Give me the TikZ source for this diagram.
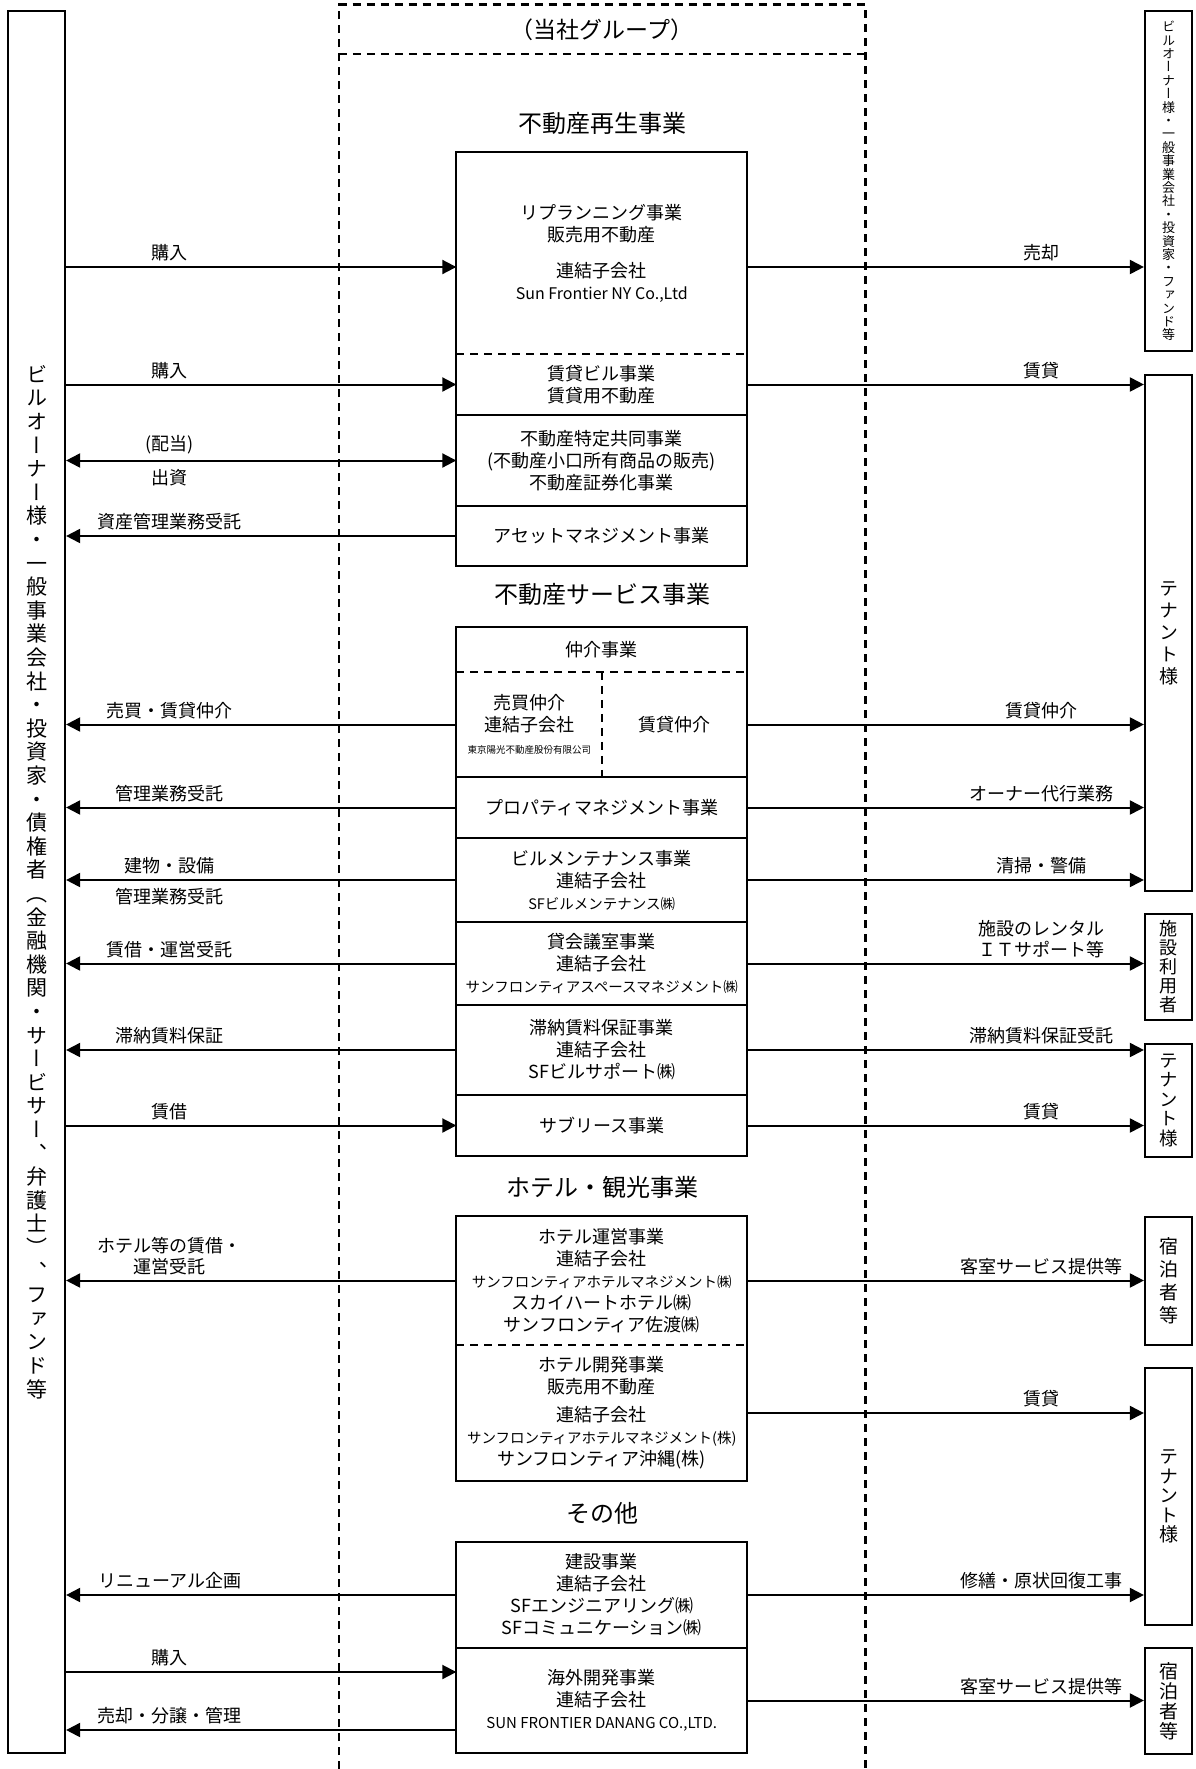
\documentclass[tikz,border=0pt]{standalone}
\usepackage{fontspec}
\setmainfont{Noto Sans CJK JP}
\newfontfamily\vertfont[RawFeature=+vert]{Noto Sans CJK JP}
\usepackage{tikz}
\usetikzlibrary{arrows.meta}
\newcommand{\vtext}[2]{\vertfont\fontsize{#1}{#2}\selectfont}
\newcommand{\headfont}{\fontsize{24}{28}\selectfont}
\newcommand{\boxfont}{\fontsize{18}{22}\selectfont}
\newcommand{\namefont}{\fontsize{14.5}{22}\selectfont}
\newcommand{\tinyfont}{\fontsize{9.5}{22}\selectfont}
\newcommand{\labelfont}{\fontsize{18}{21}\selectfont}
\tikzstyle{Section}=[minimum width=290.5pt, inner sep=0pt, align=center, font=\boxfont]
\tikzstyle{Half}=[minimum width=145pt, inner sep=0pt, align=center, font=\boxfont]
\tikzstyle{Owner}=[minimum width=57pt, minimum height=1742pt, draw=black, line width=2.2pt, inner sep=0pt, align=center]
\tikzstyle{Party}=[minimum width=47pt, draw=black, line width=2.2pt, inner sep=0pt, align=center]
\tikzstyle{Heading}=[font=\headfont, inner sep=0pt]
\tikzstyle{Label}=[font=\labelfont, inner sep=1pt, align=center]
\tikzstyle{arrow}=[line width=2pt]
\tikzstyle{Frame}=[line width=2.2pt]
\tikzstyle{divider}=[line width=2.2pt, dash pattern=on 8pt off 6pt]
\tikzstyle{groupline}=[line width=2.6pt, dash pattern=on 8pt off 6pt]
\pgfdeclarelayer{nodelayer}
\pgfdeclarelayer{edgelayer}
\pgfsetlayers{nodelayer, edgelayer, main}

\begin{document}
\begin{tikzpicture}[x=1pt, y=-1pt, >={Triangle[length=14pt, width=14pt]}]
	\useasboundingbox (0, 0) rectangle (1195, 1769);
	\begin{pgfonlayer}{nodelayer}
		\node [style=Owner, font={\vtext{21}{23.6}}] (owners) at (36.5, 882) {ビ\\ル\\オ\\ー\\ナ\\ー\\様\\・\\一\\般\\事\\業\\会\\社\\・\\投\\資\\家\\・\\債\\権\\者\\（\\金\\融\\機\\関\\・\\サ\\ー\\ビ\\サ\\ー\\、\\弁\\護\\士\\）\\、\\フ\\ァ\\ン\\ド\\等};
		% group header
		\node [style=Heading, minimum width=526pt, minimum height=49pt, font=\fontsize{23}{28}\selectfont] (group_head) at (602, 29.5) {（当社グループ）};
		\coordinate (page_bottom) at (0, 1769);
		% real estate revitalization
		\node [style=Heading] (renew_head) at (602, 123) {不動産再生事業};
		\node [style=Section, minimum height=202pt] (refurb) at (601.75, 253) {リプランニング事業\\販売用不動産\\[14pt]連結子会社\\{\fontsize{16}{22}\selectfont Sun Frontier NY Co.,Ltd}};
		\node [style=Section, minimum height=61pt] (rent_bldg) at (601.75, 384.5) {賃貸ビル事業\\賃貸用不動産};
		\node [style=Section, minimum height=91pt] (joint_biz) at (601.75, 460.5) {不動産特定共同事業\\(不動産小口所有商品の販売)\\不動産証券化事業};
		\node [style=Section, minimum height=60pt] (asset_mgmt) at (601.75, 536) {アセットマネジメント事業};
		% real estate services
		\node [style=Heading] (service_head) at (602, 594) {不動産サービス事業};
		\node [style=Section, minimum height=45pt] (broker_head) at (601.75, 649.5) {仲介事業};
		\node [style=Half, minimum width=145.5pt, minimum height=105pt] (sale_broker) at (529.25, 724.5) {売買仲介\\連結子会社\\{\tinyfont 東京陽光不動産股份有限公司}};
		\node [style=Half, minimum height=105pt] (lease_broker) at (674.5, 724.5) {賃貸仲介};
		\node [style=Section, minimum height=61pt] (prop_mgmt) at (601.75, 807.5) {プロパティマネジメント事業};
		\node [style=Section, minimum height=84pt] (bldg_maint) at (601.75, 880) {ビルメンテナンス事業\\連結子会社\\{\namefont SFビルメンテナンス㈱}};
		\node [style=Section, minimum height=83pt] (conf_room) at (601.75, 963.5) {貸会議室事業\\連結子会社\\{\namefont サンフロンティアスペースマネジメント㈱}};
		\node [style=Section, minimum height=90pt] (rent_guar) at (601.75, 1050) {滞納賃料保証事業\\連結子会社\\SFビルサポート㈱};
		\node [style=Section, minimum height=61pt] (sublease) at (601.75, 1125.5) {サブリース事業};
		% hotel and tourism
		\node [style=Heading] (hotel_head) at (602, 1187) {ホテル・観光事業};
		\node [style=Section, minimum height=129pt] (hotel_op) at (601.75, 1280.5) {ホテル運営事業\\連結子会社\\{\namefont サンフロンティアホテルマネジメント㈱}\\スカイハートホテル㈱\\サンフロンティア佐渡㈱};
		\node [style=Section, minimum height=136pt] (hotel_dev) at (601.75, 1413) {ホテル開発事業\\販売用不動産\\[6pt]連結子会社\\{\namefont サンフロンティアホテルマネジメント(株)}\\サンフロンティア沖縄(株)};
		% others
		\node [style=Heading] (other_head) at (602, 1513) {その他};
		\node [style=Section, minimum height=106pt] (construct) at (601.75, 1595) {建設事業\\連結子会社\\SFエンジニアリング㈱\\SFコミュニケーション㈱};
		\node [style=Section, minimum height=105pt] (overseas) at (601.75, 1700.5) {海外開発事業\\連結子会社\\{\fontsize{15}{22}\selectfont SUN FRONTIER DANANG CO.,LTD.}};
		% counterparties
		\node [style=Party, minimum height=340pt, font={\vtext{13}{13.4}}] (buyers) at (1168.5, 181) {ビ\\ル\\オ\\ー\\ナ\\ー\\様\\・\\一\\般\\事\\業\\会\\社\\・\\投\\資\\家\\・\\フ\\ァ\\ン\\ド\\等};
		\node [style=Party, minimum height=516pt, font={\vtext{19}{22}}] (tenants_a) at (1168.5, 633) {テ\\ナ\\ン\\ト\\様};
		\node [style=Party, minimum height=106pt, font={\vtext{18}{19}}] (facility_users) at (1168.5, 967) {施\\設\\利\\用\\者};
		\node [style=Party, minimum height=113pt, font={\vtext{18.5}{19.5}}] (tenants_b) at (1168.5, 1100.5) {テ\\ナ\\ン\\ト\\様};
		\node [style=Party, minimum height=128pt, font={\vtext{19}{23}}] (guests_a) at (1168.5, 1281) {宿\\泊\\者\\等};
		\node [style=Party, minimum height=257pt, font={\vtext{19}{19.5}}] (tenants_c) at (1168.5, 1496.5) {テ\\ナ\\ン\\ト\\様};
		\node [style=Party, minimum height=106pt, font={\vtext{19}{20}}] (guests_b) at (1168.5, 1701) {宿\\泊\\者\\等};
		\coordinate (refurb_in) at ([yshift=-14pt]refurb.west);
		\coordinate (refurb_out) at ([yshift=-14pt]refurb.east);
		\coordinate (overseas_in) at ([yshift=28.5pt]overseas.west);
		\coordinate (overseas_back) at ([yshift=-29.5pt]overseas.west);
	\end{pgfonlayer}
	\begin{pgfonlayer}{edgelayer}
		% group outline
		\draw [style=groupline] (group_head.west |- page_bottom) -- (group_head.north west) -- (group_head.north east) -- (group_head.east |- page_bottom);
		\draw [style=groupline] (group_head.south west) -- (group_head.south east);
		% business frames
		\draw [style=Frame] (refurb.north west) rectangle (asset_mgmt.south east);
		\draw [style=divider] (refurb.south west) to (refurb.south east);
		\draw [style=Frame] (rent_bldg.south west) to (rent_bldg.south east);
		\draw [style=Frame] (joint_biz.south west) to (joint_biz.south east);
		\draw [style=Frame] (broker_head.north west) rectangle (sublease.south east);
		\draw [style=divider] (broker_head.south west) to (broker_head.south east);
		\draw [style=divider] (sale_broker.north east) to (sale_broker.south east);
		\draw [style=Frame] (sale_broker.south west) to (lease_broker.south east);
		\draw [style=Frame] (prop_mgmt.south west) to (prop_mgmt.south east);
		\draw [style=Frame] (bldg_maint.south west) to (bldg_maint.south east);
		\draw [style=Frame] (conf_room.south west) to (conf_room.south east);
		\draw [style=Frame] (rent_guar.south west) to (rent_guar.south east);
		\draw [style=Frame] (hotel_op.north west) rectangle (hotel_dev.south east);
		\draw [style=divider] (hotel_op.south west) to (hotel_op.south east);
		\draw [style=Frame] (construct.north west) rectangle (overseas.south east);
		\draw [style=Frame] (construct.south west) to (construct.south east);
		% owners side
		\draw [->, style=arrow] (owners.east |- refurb_in) to node[style=Label, pos=0.266, above=4pt] {購入} (refurb_in);
		\draw [->, style=arrow] (owners.east |- rent_bldg.west) to node[style=Label, pos=0.266, above=4pt] {購入} (rent_bldg.west);
		\draw [<->, style=arrow] (owners.east |- joint_biz.west) to node[style=Label, pos=0.266, above=4pt] {(配当)} node[style=Label, pos=0.266, below=7pt] {出資} (joint_biz.west);
		\draw [<-, style=arrow] (owners.east |- asset_mgmt.west) to node[style=Label, pos=0.266, above=4pt] {資産管理業務受託} (asset_mgmt.west);
		\draw [<-, style=arrow] (owners.east |- sale_broker.west) to node[style=Label, pos=0.266, above=4pt] {売買・賃貸仲介} (sale_broker.west);
		\draw [<-, style=arrow] (owners.east |- prop_mgmt.west) to node[style=Label, pos=0.266, above=4pt] {管理業務受託} (prop_mgmt.west);
		\draw [<-, style=arrow] (owners.east |- bldg_maint.west) to node[style=Label, pos=0.266, above=4pt] {建物・設備} node[style=Label, pos=0.266, below=6pt] {管理業務受託} (bldg_maint.west);
		\draw [<-, style=arrow] (owners.east |- conf_room.west) to node[style=Label, pos=0.266, above=4pt] {賃借・運営受託} (conf_room.west);
		\draw [<-, style=arrow] (owners.east |- rent_guar.west) to node[style=Label, pos=0.266, above=4pt] {滞納賃料保証} (rent_guar.west);
		\draw [->, style=arrow] (owners.east |- sublease.west) to node[style=Label, pos=0.266, above=4pt] {賃借} (sublease.west);
		\draw [<-, style=arrow] (owners.east |- hotel_op.west) to node[style=Label, pos=0.266, above=4pt] {ホテル等の賃借・\\運営受託} (hotel_op.west);
		\draw [<-, style=arrow] (owners.east |- construct.west) to node[style=Label, pos=0.266, above=4pt] {リニューアル企画} (construct.west);
		\draw [->, style=arrow] (owners.east |- overseas_in) to node[style=Label, pos=0.266, above=4pt] {購入} (overseas_in);
		\draw [<-, style=arrow] (owners.east |- overseas_back) to node[style=Label, pos=0.266, above=4pt] {売却・分譲・管理} (overseas_back);
		% customers side
		\draw [->, style=arrow] (refurb_out) to node[style=Label, pos=0.741, above=4pt] {売却} (refurb_out -| buyers.west);
		\draw [->, style=arrow] (rent_bldg.east) to node[style=Label, pos=0.741, above=4pt] {賃貸} (rent_bldg.east -| tenants_a.west);
		\draw [->, style=arrow] (lease_broker.east) to node[style=Label, pos=0.741, above=4pt] {賃貸仲介} (lease_broker.east -| tenants_a.west);
		\draw [->, style=arrow] (prop_mgmt.east) to node[style=Label, pos=0.741, above=4pt] {オーナー代行業務} (prop_mgmt.east -| tenants_a.west);
		\draw [->, style=arrow] (bldg_maint.east) to node[style=Label, pos=0.741, above=4pt] {清掃・警備} (bldg_maint.east -| tenants_a.west);
		\draw [->, style=arrow] (conf_room.east) to node[style=Label, pos=0.741, above=4pt] {施設のレンタル\\ＩＴサポート等} (conf_room.east -| facility_users.west);
		\draw [->, style=arrow] (rent_guar.east) to node[style=Label, pos=0.741, above=4pt] {滞納賃料保証受託} (rent_guar.east -| tenants_b.west);
		\draw [->, style=arrow] (sublease.east) to node[style=Label, pos=0.741, above=4pt] {賃貸} (sublease.east -| tenants_b.west);
		\draw [->, style=arrow] (hotel_op.east) to node[style=Label, pos=0.741, above=4pt] {客室サービス提供等} (hotel_op.east -| guests_a.west);
		\draw [->, style=arrow] (hotel_dev.east) to node[style=Label, pos=0.741, above=4pt] {賃貸} (hotel_dev.east -| tenants_c.west);
		\draw [->, style=arrow] (construct.east) to node[style=Label, pos=0.741, above=4pt] {修繕・原状回復工事} (construct.east -| tenants_c.west);
		\draw [->, style=arrow] (overseas.east) to node[style=Label, pos=0.741, above=4pt] {客室サービス提供等} (overseas.east -| guests_b.west);
	\end{pgfonlayer}
\end{tikzpicture}
\end{document}
